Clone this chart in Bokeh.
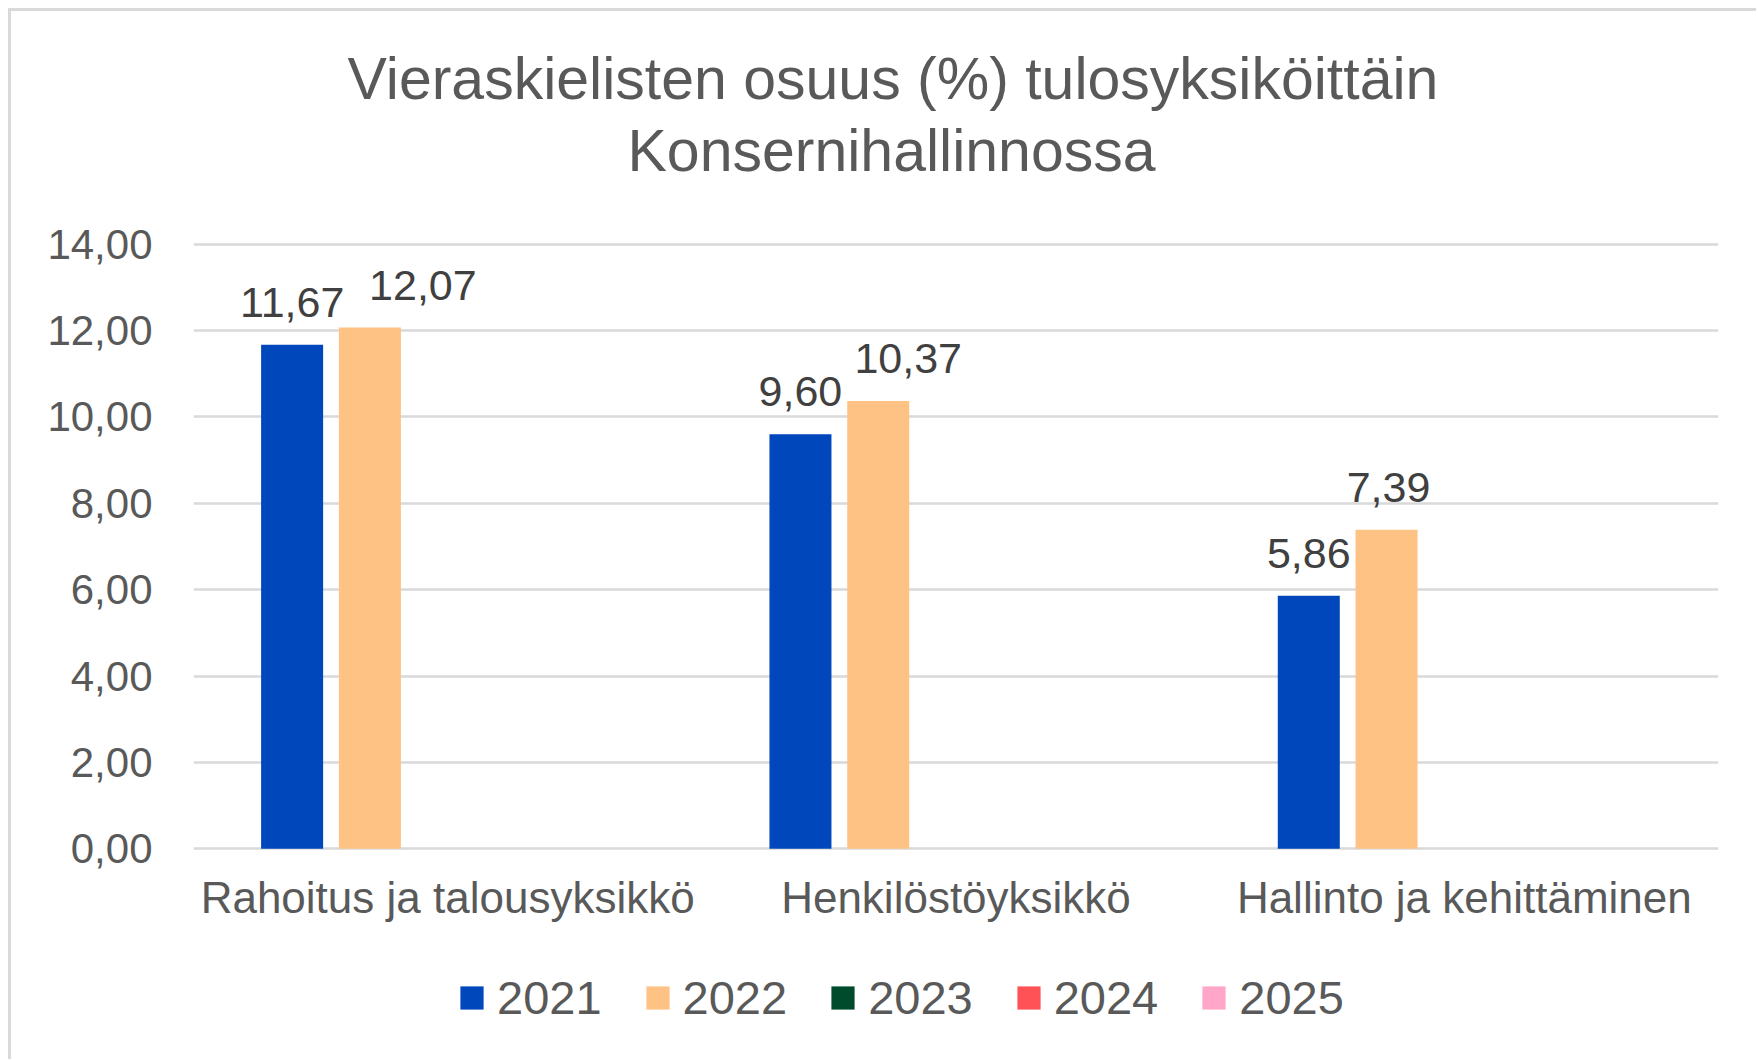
from bokeh.plotting import figure
from bokeh.layouts import column
from bokeh.models import (ColumnDataSource, FactorRange, Range1d, FixedTicker,
                          LabelSet, Legend, LegendItem, Title)
from bokeh.core.properties import value
from bokeh.transform import dodge
from bokeh.embed import file_html
from bokeh.resources import INLINE

# ---------------- data ----------------
title_lines = ["Vieraskielisten osuus (%) tulosyksiköittäin", "Konsernihallinnossa"]
categories = ["Rahoitus ja talousyksikkö", "Henkilöstöyksikkö", "Hallinto ja kehittäminen"]
years = ["2021", "2022", "2023", "2024", "2025"]
values_2021 = [11.67, 9.60, 5.86]
values_2022 = [12.07, 10.37, 7.39]
values_2023 = []
values_2024 = []
values_2025 = []
y_ticks = [0, 2, 4, 6, 8, 10, 12, 14]
y_tick_labels = ["0,00", "2,00", "4,00", "6,00", "8,00", "10,00", "12,00", "14,00"]

# ---------------- styles ----------------
colors = ["#0047BB", "#FFC285", "#004B2C", "#FF5257", "#FFA6C9"]
offsets = [-0.306, -0.153, 0.0, 0.153, 0.306]
label_nudge = {"2021": [0, 0, 0], "2022": [53, 30, 2]}  # manual label nudges (px)
FONT = "Liberation Sans"
GREY = "#595959"
W = 1745

series = {"2021": values_2021, "2022": values_2022, "2023": values_2023,
          "2024": values_2024, "2025": values_2025}

p = figure(width=W, height=950, x_range=FactorRange(*categories, range_padding=0),
           y_range=Range1d(-0.04, 14.04), output_backend="svg", toolbar_location=None,
           title=None,
           min_border_left=182, min_border_right=38, min_border_top=231, min_border_bottom=111)
p.outline_line_color = None
p.background_fill_color = "white"

for yr, col, off in zip(years, colors, offsets):
    vals = series[yr]
    cats = categories[:len(vals)]
    src = ColumnDataSource(dict(cat=cats, val=vals,
                                lab=[f"{v:.2f}".replace(".", ",") for v in vals],
                                dx=label_nudge.get(yr, [0] * len(vals))[:len(vals)]))
    p.vbar(x=dodge("cat", off, range=p.x_range), top="val", bottom=0, width=0.122,
           source=src, fill_color=col, line_color=None)
    if vals:
        ls = LabelSet(x=dodge("cat", off, range=p.x_range), y="val", text="lab", source=src,
                      x_offset="dx", y_offset=28, text_align="center", text_baseline="alphabetic",
                      text_font=value(FONT), text_font_size=value("43px"),
                      text_color=value("#404040"))
        p.add_layout(ls)

# axes
p.yaxis.ticker = FixedTicker(ticks=y_ticks)
p.yaxis.major_label_overrides = {t: l for t, l in zip(y_ticks, y_tick_labels)}
for ax in (p.xaxis, p.yaxis):
    ax.axis_line_color = None
    ax.major_tick_line_color = None
    ax.minor_tick_line_color = None
    ax.major_tick_out = 0
    ax.major_tick_in = 0
    ax.major_label_text_font = FONT
    ax.major_label_text_color = GREY
p.yaxis.major_label_text_font_size = "42px"
p.yaxis.major_label_standoff = 41
p.xaxis.major_label_text_font_size = "44px"
p.xaxis.major_label_standoff = 22

p.ygrid.grid_line_color = "#d9d9d9"
p.ygrid.grid_line_width = 2.5
p.xgrid.grid_line_color = None

# title (two lines) stacked above the plot, with a spacer next to the plot
p.add_layout(Title(text=" ", text_font_size="1px", standoff=56), "above")
p.add_layout(Title(text=title_lines[1], align="left", offset=434, standoff=0,
                   text_font=FONT, text_font_size="59px", text_color=GREY,
                   text_font_style="normal"), "above")
p.add_layout(Title(text=title_lines[0], align="left", offset=154, standoff=8,
                   text_font=FONT, text_font_size="59px", text_color=GREY,
                   text_font_style="normal"), "above")

# legend in its own strip below the chart (frames of both figures are aligned)
LH = 98
pl = figure(width=W, height=LH, x_range=Range1d(0, 1), y_range=Range1d(0, 1),
            output_backend="svg", toolbar_location=None, title=None,
            min_border_left=0, min_border_right=0, min_border_top=0, min_border_bottom=0)
pl.axis.visible = False
pl.grid.visible = False
pl.outline_line_color = None
items = []
for yr, col in zip(years, colors):
    # legend swatch source: a zero-height placeholder, nothing is drawn in the strip
    r = pl.vbar(x=[0.5], top=[0], bottom=[0], width=0.001, fill_color=col, line_color=None)
    items.append(LegendItem(label=yr, renderers=[r]))
legend = Legend(items=items, orientation="horizontal", location=(264, 34),
                glyph_width=29, glyph_height=29, label_standoff=11, spacing=41,
                padding=0, margin=0, border_line_color=None, background_fill_alpha=0,
                label_text_font=FONT, label_text_font_size="47px", label_text_color=GREY)
pl.add_layout(legend)

layout = column(p, pl, spacing=0)
layout.styles = {"border-top": "3px solid #d9d9d9", "border-left": "3px solid #d9d9d9",
                 "margin-left": "8px", "margin-top": "8px"}

open("out.html", "w").write(file_html(layout, INLINE))
